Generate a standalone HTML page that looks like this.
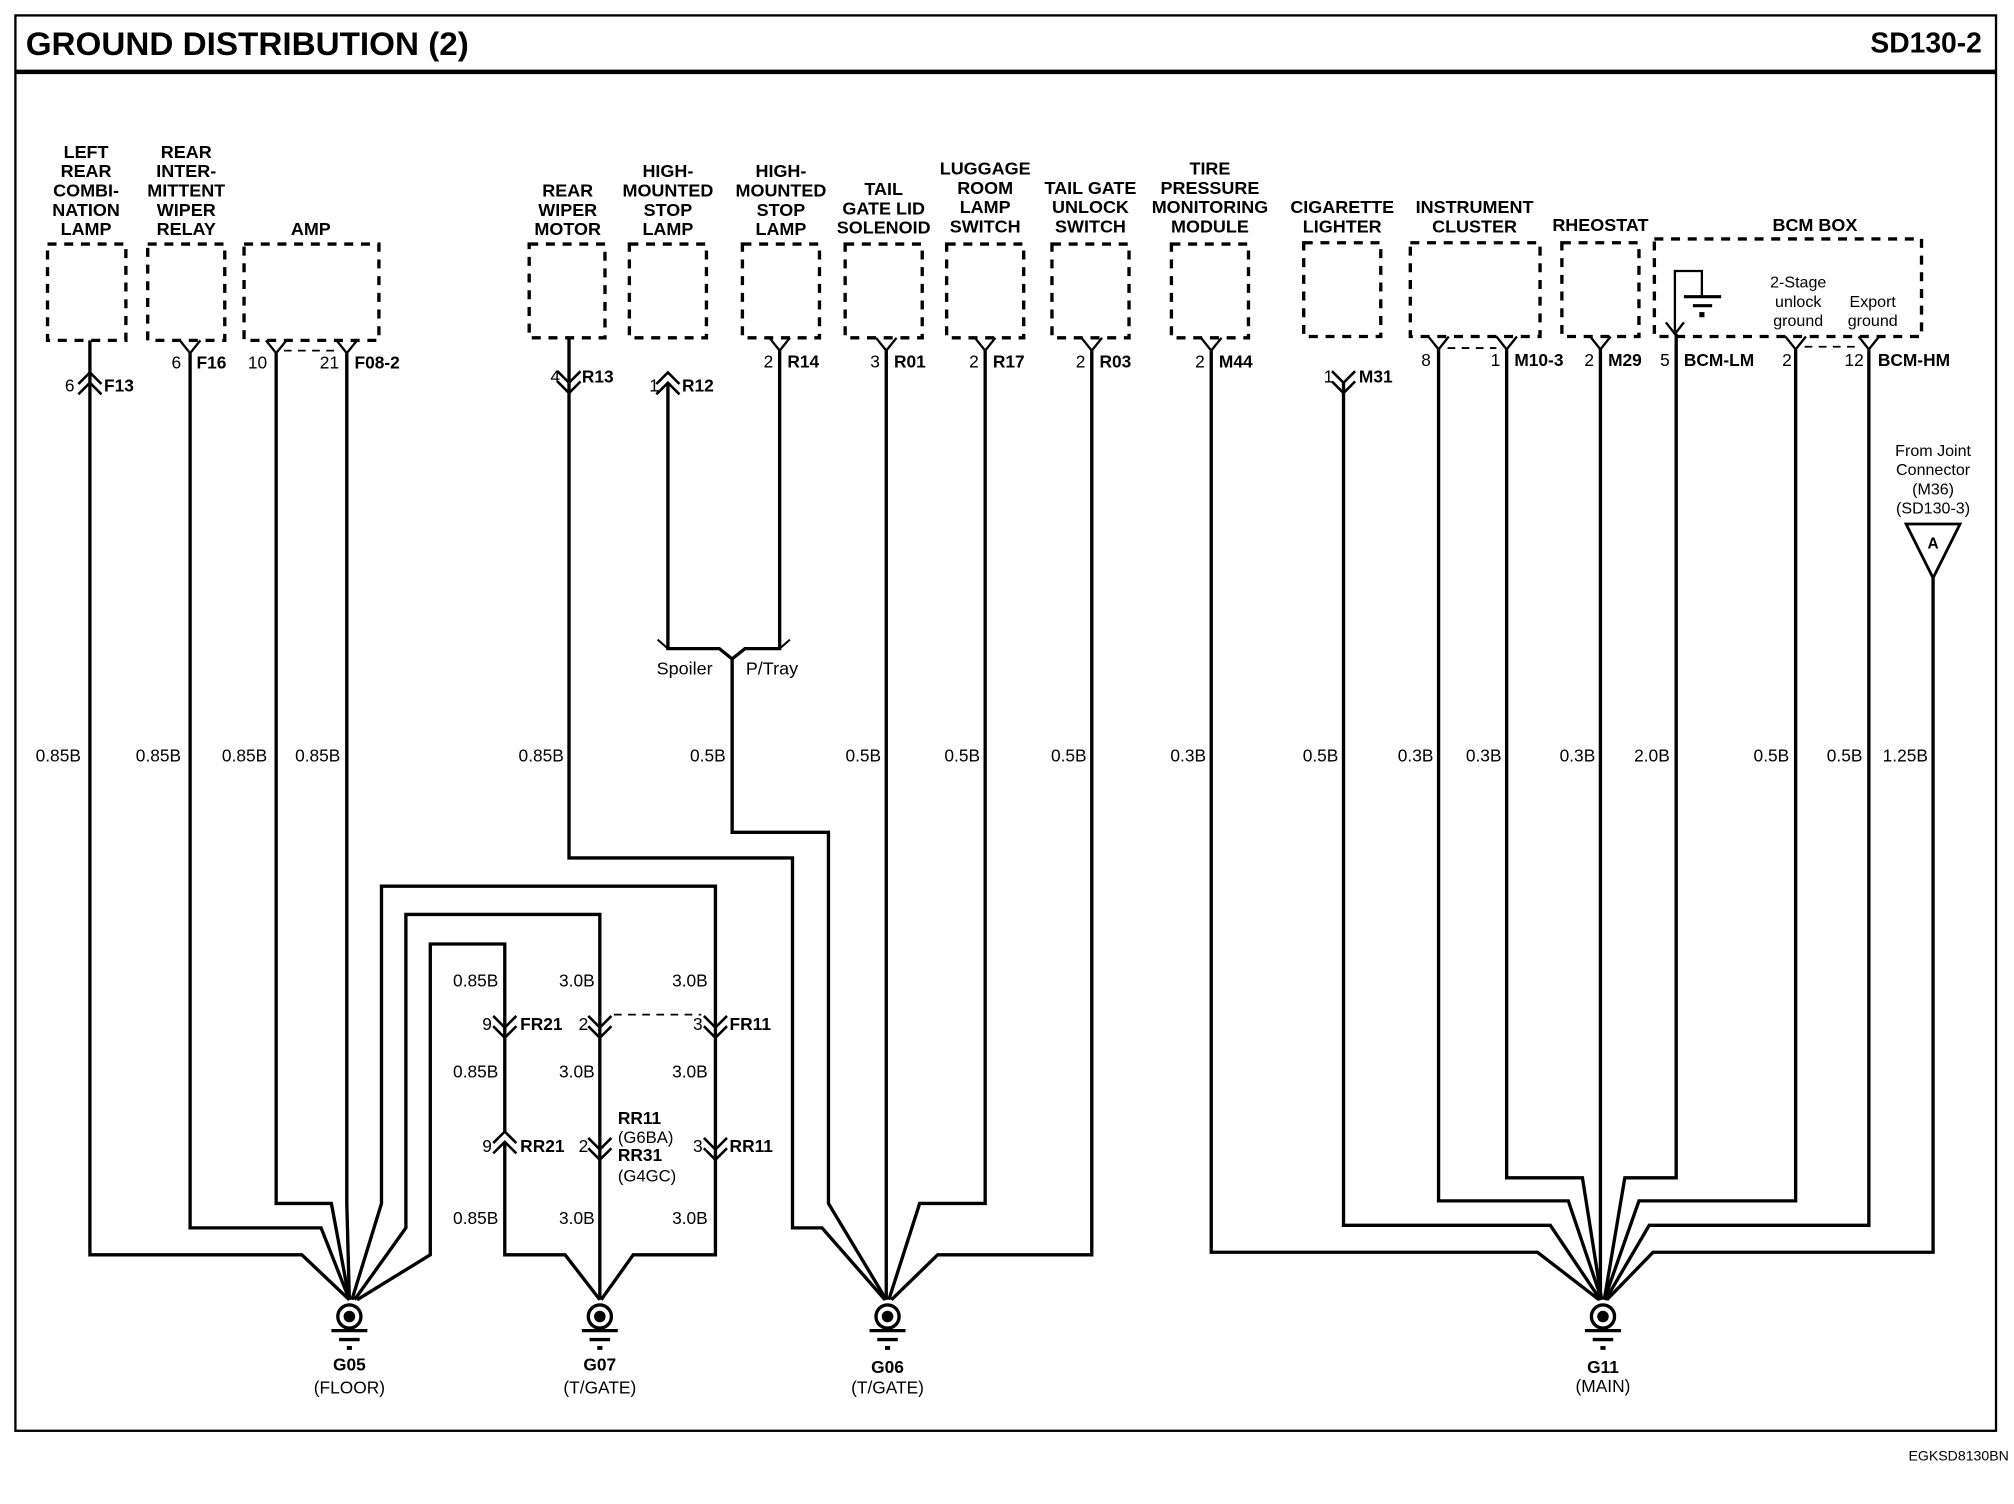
<!DOCTYPE html>
<html><head><meta charset="utf-8"><style>
html,body{margin:0;padding:0;background:#fff;}
svg{display:block;}
.w{fill:none;stroke:#000;stroke-width:2.6;stroke-linejoin:miter;}
.d{fill:none;stroke:#000;stroke-width:2.6;stroke-dasharray:7,6;}
.dl{fill:none;stroke:#000;stroke-width:1.4;stroke-dasharray:6,5;}
.c{fill:none;stroke:#000;stroke-width:1.8;}
.lb{font-family:"Liberation Sans Narrow","Liberation Sans",sans-serif;font-weight:bold;font-size:14px;text-anchor:middle;}
.g{font-family:"Liberation Sans",sans-serif;font-size:13.5px;text-anchor:end;}
.p{font-family:"Liberation Sans",sans-serif;font-size:13.5px;text-anchor:end;}
.cn{font-family:"Liberation Sans Narrow","Liberation Sans",sans-serif;font-weight:bold;font-size:13.5px;}
.sm{font-family:"Liberation Sans",sans-serif;font-size:13px;text-anchor:middle;}
</style></head><body>
<svg width="2014" height="1504" viewBox="0 0 1568 1171" preserveAspectRatio="none" xmlns="http://www.w3.org/2000/svg">
<rect x="12" y="12" width="1542" height="1102" fill="none" stroke="#000" stroke-width="1.8"/>
<line x1="12" y1="56" x2="1554" y2="56" stroke="#000" stroke-width="3.5"/>
<text x="20" y="43" font-family="Liberation Sans,sans-serif" font-weight="bold" font-size="25" textLength="345" lengthAdjust="spacingAndGlyphs">GROUND DISTRIBUTION (2)</text>
<text x="1543" y="41" font-family="Liberation Sans,sans-serif" font-weight="bold" font-size="22" text-anchor="end">SD130-2</text>
<text x="1564" y="1137" font-family="Liberation Sans,sans-serif" font-size="11" text-anchor="end">EGKSD8130BN</text>

<!-- boxes -->
<g class="d">
<rect x="37" y="190" width="61" height="75"/>
<rect x="115" y="190" width="60" height="75"/>
<rect x="190" y="190" width="105" height="75"/>
<rect x="412" y="190" width="59" height="73"/>
<rect x="490" y="190" width="60" height="73"/>
<rect x="578" y="190" width="60" height="73"/>
<rect x="658" y="190" width="60" height="73"/>
<rect x="737" y="190" width="60" height="73"/>
<rect x="819" y="190" width="60" height="73"/>
<rect x="912" y="190" width="60" height="73"/>
<rect x="1015" y="189" width="60" height="73"/>
<rect x="1098" y="189" width="101" height="73"/>
<rect x="1216" y="189" width="60" height="73"/>
<rect x="1288" y="186" width="208" height="76"/>
</g>

<!-- component labels -->
<g class="lb">
<text x="67" y="123">LEFT</text><text x="67" y="138">REAR</text><text x="67" y="153">COMBI-</text><text x="67" y="168">NATION</text><text x="67" y="183">LAMP</text>
<text x="145" y="123">REAR</text><text x="145" y="138">INTER-</text><text x="145" y="153">MITTENT</text><text x="145" y="168">WIPER</text><text x="145" y="183">RELAY</text>
<text x="242" y="183">AMP</text>
<text x="442" y="153">REAR</text><text x="442" y="168">WIPER</text><text x="442" y="183">MOTOR</text>
<text x="520" y="138">HIGH-</text><text x="520" y="153">MOUNTED</text><text x="520" y="168">STOP</text><text x="520" y="183">LAMP</text>
<text x="608" y="138">HIGH-</text><text x="608" y="153">MOUNTED</text><text x="608" y="168">STOP</text><text x="608" y="183">LAMP</text>
<text x="688" y="152">TAIL</text><text x="688" y="167">GATE LID</text><text x="688" y="182">SOLENOID</text>
<text x="767" y="136">LUGGAGE</text><text x="767" y="151">ROOM</text><text x="767" y="166">LAMP</text><text x="767" y="181">SWITCH</text>
<text x="849" y="151">TAIL GATE</text><text x="849" y="166">UNLOCK</text><text x="849" y="181">SWITCH</text>
<text x="942" y="136">TIRE</text><text x="942" y="151">PRESSURE</text><text x="942" y="166">MONITORING</text><text x="942" y="181">MODULE</text>
<text x="1045" y="166">CIGARETTE</text><text x="1045" y="181">LIGHTER</text>
<text x="1148" y="166">INSTRUMENT</text><text x="1148" y="181">CLUSTER</text>
<text x="1246" y="180">RHEOSTAT</text>
<text x="1413" y="180">BCM BOX</text>
</g>

<!-- BCM internals -->
<path class="w" d="M1304,258 V211 H1325 V230" style="stroke-width:1.8"/>
<line x1="1311" y1="231" x2="1340" y2="231" stroke="#000" stroke-width="2.5"/>
<line x1="1318" y1="238" x2="1333" y2="238" stroke="#000" stroke-width="2.5"/>
<rect x="1323" y="243" width="4" height="4"/>
<path class="c" d="M1297,251 L1304,260 L1311,251"/>
<g class="sm" style="font-size:12.5px">
<text x="1400" y="224">2-Stage</text><text x="1400" y="239">unlock</text><text x="1400" y="254">ground</text>
<text x="1458" y="239">Export</text><text x="1458" y="254">ground</text>
<text x="1505" y="355">From Joint</text><text x="1505" y="370">Connector</text><text x="1505" y="385">(M36)</text><text x="1505" y="400">(SD130-3)</text>
</g>
<polygon points="1484,408 1526,408 1505,450" fill="none" stroke="#000" stroke-width="2.2"/>
<text x="1505" y="427" class="cn" text-anchor="middle" style="font-size:12px">A</text>

<!-- female pin Ys at box bottom -->
<g class="c">
<path d="M140,265 L148,275 L156,265"/>
<path d="M207,265 L215,275 L223,265"/><path d="M262,265 L270,275 L278,265"/>
<path d="M599,263 L607,273 L615,263"/>
<path d="M682,263 L690,273 L698,263"/>
<path d="M759,263 L767,273 L775,263"/>
<path d="M842,263 L850,273 L858,263"/>
<path d="M935,263 L943,273 L951,263"/>
<path d="M1112,262 L1120,272 L1128,262"/><path d="M1165,262 L1173,272 L1181,262"/>
<path d="M1238,262 L1246,272 L1254,262"/>
<path d="M1390,262 L1398,272 L1406,262"/><path d="M1447,262 L1455,272 L1463,262"/>
</g>
<g class="dl">
<line x1="221" y1="273" x2="262" y2="273"/>
<line x1="1127" y1="271" x2="1165" y2="271"/>
<line x1="1405" y1="270" x2="1448" y2="270"/>
</g>

<!-- male connectors (double chevrons) -->
<g class="c" style="stroke-width:2">
<path d="M61,299 L70,290 L79,299 M61,307 L70,298 L79,307"/>
<path d="M511,299 L520,290 L529,299 M511,307 L520,298 L529,307"/>
<path d="M384,890 L393,881 L402,890 M384,898 L393,889 L402,898"/>
<path d="M434,289 L443,298 L452,289 M434,297 L443,306 L452,297"/>
<path d="M1037,289 L1046,298 L1055,289 M1037,297 L1046,306 L1055,297"/>
<path d="M384,791 L393,800 L402,791 M384,799 L393,808 L402,799"/>
<path d="M458,791 L467,800 L476,791 M458,799 L467,808 L476,799"/>
<path d="M548,791 L557,800 L566,791 M548,799 L557,808 L566,799"/>
<path d="M458,886 L467,895 L476,886 M458,894 L467,903 L476,894"/>
<path d="M548,886 L557,895 L566,886 M548,894 L557,903 L566,894"/>
</g>
<line class="dl" x1="478" y1="790" x2="546" y2="790"/>

<!-- pin labels -->
<g class="p">
<text x="58" y="305">6</text><text x="141" y="287">6</text><text x="208" y="287">10</text><text x="264" y="287">21</text>
<text x="436" y="298">4</text><text x="513" y="305">1</text><text x="602" y="286">2</text><text x="685" y="286">3</text>
<text x="762" y="286">2</text><text x="845" y="286">2</text><text x="938" y="286">2</text><text x="1038" y="298">1</text>
<text x="1114" y="285">8</text><text x="1168" y="285">1</text><text x="1241" y="285">2</text><text x="1300" y="285">5</text>
<text x="1395" y="285">2</text><text x="1451" y="285">12</text>
<text x="383" y="802">9</text><text x="458" y="802">2</text><text x="547" y="802">3</text>
<text x="383" y="897">9</text><text x="458" y="897">2</text><text x="547" y="897">3</text>
</g>
<g class="cn">
<text x="81" y="305">F13</text><text x="153" y="287">F16</text><text x="276" y="287">F08-2</text>
<text x="453" y="298">R13</text><text x="531" y="305">R12</text><text x="613" y="286">R14</text><text x="696" y="286">R01</text>
<text x="773" y="286">R17</text><text x="856" y="286">R03</text><text x="949" y="286">M44</text><text x="1058" y="298">M31</text>
<text x="1179" y="285">M10-3</text><text x="1252" y="285">M29</text><text x="1311" y="285">BCM-LM</text><text x="1462" y="285">BCM-HM</text>
<text x="405" y="802">FR21</text><text x="568" y="802">FR11</text>
<text x="405" y="897">RR21</text><text x="568" y="897">RR11</text>
<text x="481" y="875">RR11</text><text x="481" y="904">RR31</text>
</g>
<g font-family="Liberation Sans,sans-serif" font-size="13">
<text x="481" y="890">(G6BA)</text><text x="481" y="920">(G4GC)</text>
</g>
<g font-family="Liberation Sans Narrow,Liberation Sans,sans-serif" font-size="14" text-anchor="middle">
<text x="533" y="525">Spoiler</text><text x="601" y="525">P/Tray</text>
</g>

<!-- wires -->
<g class="w">
<path d="M70,265 V977 H235 L272,1012"/>
<path d="M148,275 V956 H250 L272,1012"/>
<path d="M215,275 V937 H258 L272,1012"/>
<path d="M270,275 V937 L272,1012"/>
<path d="M557,800 V690 H297 V937 L274,1012"/>
<path d="M467,800 V712 H316 V956 L276,1012"/>
<path d="M393,881 V735 H335 V977 L278,1012"/>
<path d="M393,889 V977 H440 L467,1012"/>
<path d="M467,800 V1012"/>
<path d="M557,800 V977 H493 L468,1012"/>
<path d="M443,263 V668 H617 V956 H640 L689,1012"/>
<path d="M520,298 V505 H560 L570,513 L580,505 H607 V273"/>
<path d="M520,505 L512,498 M607,505 L615,498" style="stroke-width:1.6"/>
<path d="M570,513 V648 H645 V937 L690,1012"/>
<path d="M690,273 V1012"/>
<path d="M767,273 V937 H716 L692,1012"/>
<path d="M850,273 V977 H730 L694,1012"/>
<path d="M943,273 V975 H1197 L1245,1012"/>
<path d="M1046,298 V954 H1207 L1246,1012"/>
<path d="M1120,272 V935 H1221 L1247,1012"/>
<path d="M1173,272 V917 H1232 L1247,1012"/>
<path d="M1246,272 V1012"/>
<path d="M1305,260 V917 H1265 L1249,1012"/>
<path d="M1398,272 V935 H1276 L1249,1012"/>
<path d="M1455,272 V954 H1284 L1250,1012"/>
<path d="M1505,450 V975 H1287 L1251,1012"/>
</g>

<!-- gauges -->
<g class="g">
<text x="63" y="593">0.85B</text><text x="141" y="593">0.85B</text><text x="208" y="593">0.85B</text><text x="265" y="593">0.85B</text>
<text x="439" y="593">0.85B</text><text x="565" y="593">0.5B</text><text x="686" y="593">0.5B</text><text x="763" y="593">0.5B</text>
<text x="846" y="593">0.5B</text><text x="939" y="593">0.3B</text><text x="1042" y="593">0.5B</text><text x="1116" y="593">0.3B</text>
<text x="1169" y="593">0.3B</text><text x="1242" y="593">0.3B</text><text x="1300" y="593">2.0B</text><text x="1393" y="593">0.5B</text>
<text x="1450" y="593">0.5B</text><text x="1501" y="593">1.25B</text>
<text x="388" y="768">0.85B</text><text x="463" y="768">3.0B</text><text x="551" y="768">3.0B</text>
<text x="388" y="839">0.85B</text><text x="463" y="839">3.0B</text><text x="551" y="839">3.0B</text>
<text x="388" y="953">0.85B</text><text x="463" y="953">3.0B</text><text x="551" y="953">3.0B</text>
</g>

<!-- grounds -->
<g transform="translate(272,0)">
<circle cx="0" cy="1025" r="9" fill="none" stroke="#000" stroke-width="2.6"/><circle cx="0" cy="1025" r="4.5"/>
<line x1="-14" y1="1036" x2="14" y2="1036" stroke="#000" stroke-width="2.6"/><line x1="-8" y1="1043" x2="8" y2="1043" stroke="#000" stroke-width="2.6"/><rect x="-2" y="1048" width="4" height="3"/>
</g>
<g transform="translate(467,0)">
<circle cx="0" cy="1025" r="9" fill="none" stroke="#000" stroke-width="2.6"/><circle cx="0" cy="1025" r="4.5"/>
<line x1="-14" y1="1036" x2="14" y2="1036" stroke="#000" stroke-width="2.6"/><line x1="-8" y1="1043" x2="8" y2="1043" stroke="#000" stroke-width="2.6"/><rect x="-2" y="1048" width="4" height="3"/>
</g>
<g transform="translate(691,0)">
<circle cx="0" cy="1025" r="9" fill="none" stroke="#000" stroke-width="2.6"/><circle cx="0" cy="1025" r="4.5"/>
<line x1="-14" y1="1036" x2="14" y2="1036" stroke="#000" stroke-width="2.6"/><line x1="-8" y1="1043" x2="8" y2="1043" stroke="#000" stroke-width="2.6"/><rect x="-2" y="1048" width="4" height="3"/>
</g>
<g transform="translate(1248,0)">
<circle cx="0" cy="1025" r="9" fill="none" stroke="#000" stroke-width="2.6"/><circle cx="0" cy="1025" r="4.5"/>
<line x1="-14" y1="1036" x2="14" y2="1036" stroke="#000" stroke-width="2.6"/><line x1="-8" y1="1043" x2="8" y2="1043" stroke="#000" stroke-width="2.6"/><rect x="-2" y="1048" width="4" height="3"/>
</g>
<g class="lb" style="font-size:13.5px">
<text x="272" y="1067">G05</text><text x="467" y="1067">G07</text><text x="691" y="1069">G06</text><text x="1248" y="1069">G11</text>
</g>
<g class="sm" style="font-size:13.5px">
<text x="272" y="1085">(FLOOR)</text><text x="467" y="1085">(T/GATE)</text><text x="691" y="1085">(T/GATE)</text><text x="1248" y="1084">(MAIN)</text>
</g>
</svg>
</body></html>
